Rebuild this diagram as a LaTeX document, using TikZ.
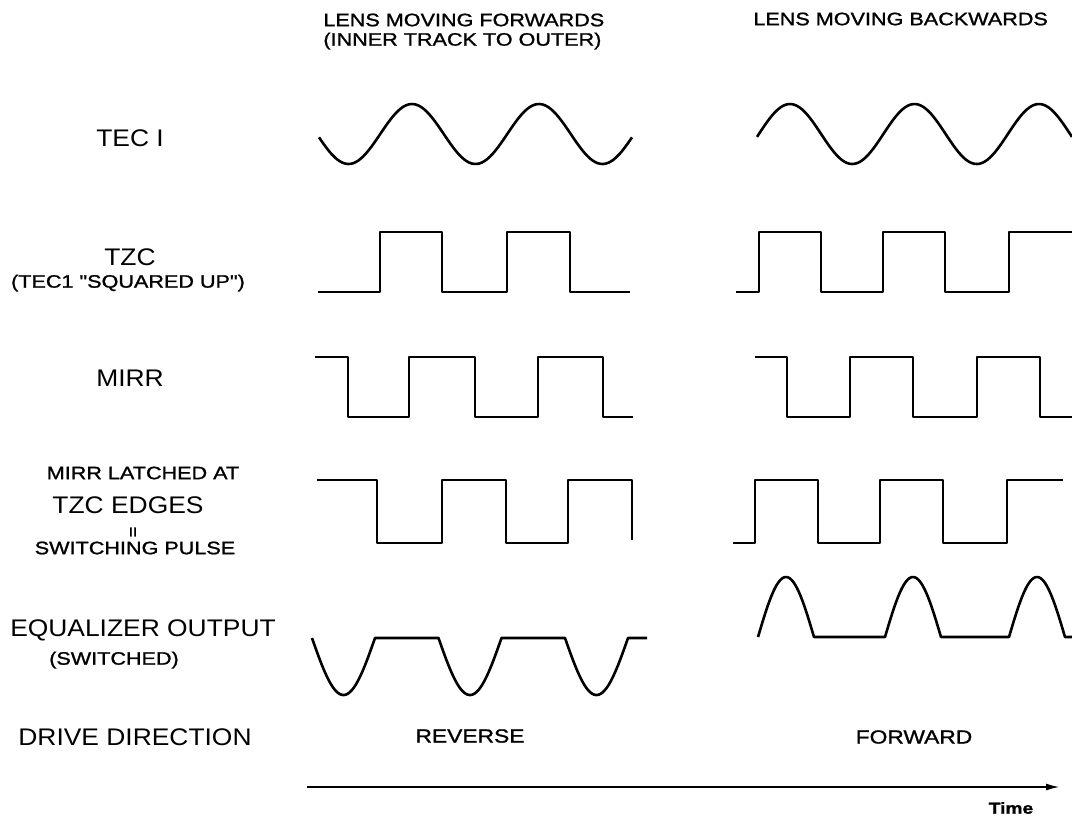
\documentclass[tikz,border=0pt]{standalone}
\usepackage{fontspec}
\setmainfont{Liberation Sans}
\newfontfamily\labelfont[FakeStretch=1.1]{Liberation Sans}
\newfontfamily\notefont[FakeStretch=1.2,FakeBold=1.2]{Liberation Sans}
\usetikzlibrary{arrows.meta}

\tikzset{
  wave/.style={line width=1.3pt, line join=round},
  biglabel/.style={font=\labelfont\fontsize{12}{14}\selectfont, inner sep=0pt},
  smalllabel/.style={font=\notefont\fontsize{9}{11}\selectfont, inner sep=0pt},
  timeaxis/.style={line width=1pt, -{Latex[length=7pt,width=3.5pt]}}
}

\begin{document}
\begin{tikzpicture}[x=0.5pt, y=-0.5pt]
  \useasboundingbox (0,0) rectangle (1072,821);

  % Column titles
  \node[smalllabel, anchor=west] (fwdtitle) at (323,20) {LENS MOVING FORWARDS};
  \node[smalllabel, anchor=west] (fwdnote) at (323,41) {(INNER TRACK TO OUTER)};
  \node[smalllabel, anchor=west] (bwdtitle) at (753,19) {LENS MOVING BACKWARDS};

  % Signal names
  \node[biglabel] (tec) at (130,138) {TEC I};
  \node[biglabel] (tzc) at (130,257) {TZC};
  \node[smalllabel] (tzcnote) at (128,283) {(TEC1 "SQUARED UP")};
  \node[biglabel] (mirr) at (130,378) {MIRR};
  \node[smalllabel] (latch) at (143,473) {MIRR LATCHED AT};
  \node[biglabel] (edges) at (128,505) {TZC EDGES};
  \node[font=\notefont\fontsize{6.5}{6.5}\selectfont, inner sep=0pt] (equals) at (133,532) {II};
  \node[smalllabel] (pulse) at (135,548) {SWITCHING PULSE};
  \node[biglabel] (eq) at (143,630) {EQUALIZER OUTPUT};
  \node[smalllabel] (eqnote) at (114,660) {(SWITCHED)};
  \node[biglabel] (drive) at (135,737) {DRIVE DIRECTION};
  \node[smalllabel, font=\notefont\fontsize{9.5}{11}\selectfont] (rev) at (470,736) {REVERSE};
  \node[smalllabel, font=\notefont\fontsize{9.5}{11}\selectfont] (fwd) at (914,737) {FORWARD};

  % TEC I
  \draw[wave] plot[domain=319:632, samples=120] (\x,{134-30*cos((\x-412)/127*360)});
  \draw[wave] plot[domain=757:1072, samples=120] (\x,{134-30*cos((\x-790)/124.5*360)});

  % TZC
  \draw[wave] (318,292) -- (380,292) -- (380,232) -- (442,232) -- (442,292)
    -- (507,292) -- (507,232) -- (570,232) -- (570,292) -- (630,292);
  \draw[wave] (736,292) -- (759,292) -- (759,232) -- (821,232) -- (821,292)
    -- (883,292) -- (883,232) -- (945,232) -- (945,292) -- (1009,292) -- (1009,232) -- (1072,232);

  % MIRR
  \draw[wave] (315,357) -- (348,357) -- (348,417) -- (409,417) -- (409,357)
    -- (475,357) -- (475,417) -- (538,417) -- (538,357) -- (603,357) -- (603,417) -- (633,417);
  \draw[wave] (755,357) -- (787,357) -- (787,417) -- (850,417) -- (850,357)
    -- (913,357) -- (913,417) -- (977,417) -- (977,357) -- (1040,357) -- (1040,417) -- (1072,417);

  % MIRR latched at TZC edges
  \draw[wave] (317,480) -- (377,480) -- (377,543) -- (442,543) -- (442,480)
    -- (506,480) -- (506,543) -- (568,543) -- (568,480) -- (632,480) -- (632,540);
  \draw[wave] (733,543) -- (755,543) -- (755,480) -- (818,480) -- (818,543)
    -- (880,543) -- (880,480) -- (943,480) -- (943,543) -- (1007,543) -- (1007,480) -- (1063,480);

  % Equalizer output
  \draw[wave] plot[domain=312:375, samples=40] (\x,{638+57*cos((\x-343.5)/126*360)})
    -- plot[domain=438.5:501.5, samples=40] (\x,{638+57*cos((\x-470)/126*360)})
    -- plot[domain=565:628, samples=40] (\x,{638+57*cos((\x-596.5)/126*360)})
    -- (647,638);
  \draw[wave] plot[domain=758:814, samples=40] (\x,{637-60*cos((\x-786)/112*360)})
    -- plot[domain=885:941, samples=40] (\x,{637-60*cos((\x-913)/112*360)})
    -- plot[domain=1009:1065, samples=40] (\x,{637-60*cos((\x-1037)/112*360)})
    -- (1072,637);

  % Time axis
  \coordinate (tstart) at (307,787);
  \coordinate (tend) at (1060,787);
  \draw[timeaxis] (tstart) -- (tend);
  \node[font=\notefont\bfseries\fontsize{8}{10}\selectfont, inner sep=0pt] (time) at (1011,808) {Time};

\end{tikzpicture}
\end{document}
